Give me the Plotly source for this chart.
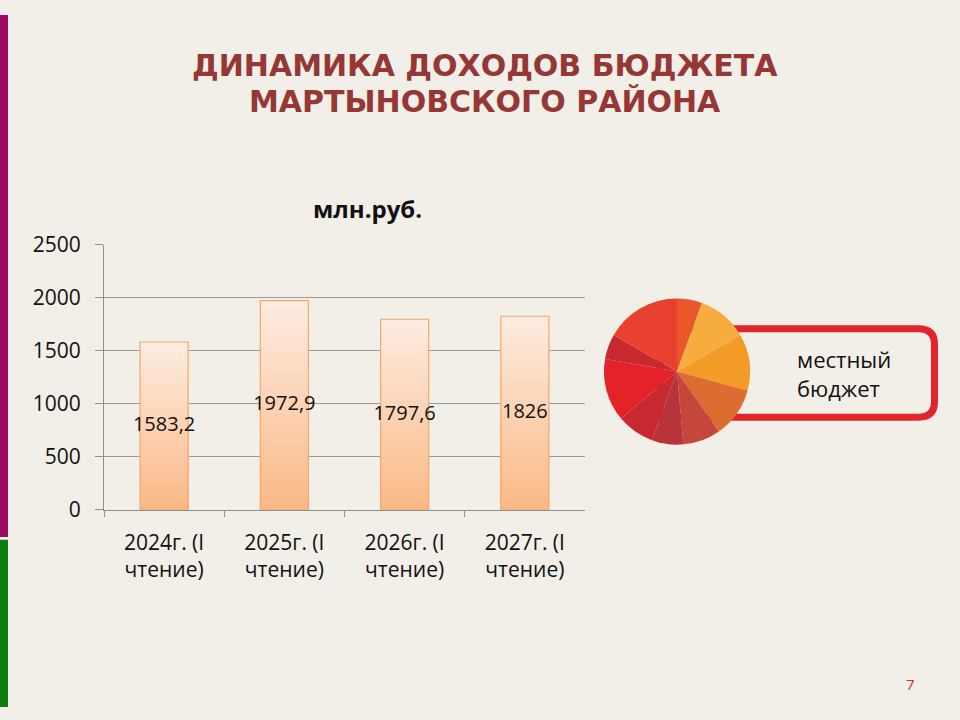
import plotly.graph_objects as go

years = ["2024г. (I<br>чтение)", "2025г. (I<br>чтение)", "2026г. (I<br>чтение)", "2027г. (I<br>чтение)"]
income = [1583.2, 1972.9, 1797.6, 1826]
income_labels = ["1583,2", "1972,9", "1797,6", "1826"]

# decorative emblem on the right (angles in degrees, clockwise from 12 o'clock)
emblem_parts = [20, 40, 45, 40, 30, 25, 30, 50, 20, 60]
emblem_colors = ["#e9572b", "#f7ac3e", "#f39b27", "#dd6c30", "#c5463a",
                 "#b8343a", "#c8282f", "#e32329", "#c9282f", "#e8412f"]

W, H = 960, 720


def px(x):
    return x / W


def py(y):
    return 1 - y / H


def mix(c1, c2, t):
    a = [int(c1[i:i + 2], 16) for i in (1, 3, 5)]
    b = [int(c2[i:i + 2], 16) for i in (1, 3, 5)]
    return "#%02x%02x%02x" % tuple(round(a[i] + (b[i] - a[i]) * t) for i in range(3))


fig = go.Figure()

# gradient bars: stack of overlaid bars, light at the top, orange at the bottom
steps = 40
for k in range(steps):
    f = 1 - k / steps
    fig.add_trace(go.Bar(x=years, y=[v * f for v in income],
                         marker=dict(color=mix("#fdece0", "#fbb987", k / (steps - 1)), line=dict(width=0)),
                         hoverinfo="skip", showlegend=False))
fig.add_trace(go.Bar(x=years, y=income,
                     marker=dict(color="rgba(0,0,0,0)", line=dict(color="#f5a868", width=1.2)),
                     hoverinfo="skip", showlegend=False))

fig.add_trace(go.Scatter(x=years, y=[v / 2 for v in income], mode="text", text=income_labels,
                         textfont=dict(family="Open Sans", size=20, color="#111111"),
                         hoverinfo="skip", showlegend=False))

fig.add_trace(go.Pie(values=emblem_parts, marker=dict(colors=emblem_colors, line=dict(width=0)),
                     sort=False, direction="clockwise", textinfo="none", hoverinfo="skip",
                     showlegend=False, domain=dict(x=[px(601), px(753)], y=[py(447), py(295)])))

# rounded frame behind the emblem
x0, x1, y0, y1, r = 660, 934.5, 326.5, 418.5, 16
path = ("M %f,%f L %f,%f Q %f,%f %f,%f L %f,%f Q %f,%f %f,%f L %f,%f Z" % (
    px(x0), py(y0), px(x1 - r), py(y0), px(x1), py(y0), px(x1), py(y0 + r),
    px(x1), py(y1 - r), px(x1), py(y1), px(x1 - r), py(y1), px(x0), py(y1)))

shapes = [
    dict(type="path", xref="paper", yref="paper", path=path, layer="below",
         line=dict(color="#e1252b", width=7), fillcolor="rgba(0,0,0,0)"),
    dict(type="rect", xref="paper", yref="paper", x0=0, x1=px(8), y0=py(543), y1=1,
         fillcolor="#9c0b62", line=dict(width=0), layer="below"),
    dict(type="rect", xref="paper", yref="paper", x0=0, x1=px(8), y0=0, y1=py(546),
         fillcolor="#0f7e10", line=dict(width=0), layer="below"),
]

title_font = dict(family="DejaVu Sans", size=30, color="#953734", weight="bold")
annotations = [
    dict(text="ДИНАМИКА ДОХОДОВ БЮДЖЕТА", x=px(485), y=py(53), xref="paper", yref="paper",
         showarrow=False, xanchor="center", yanchor="middle", font=title_font),
    dict(text="МАРТЫНОВСКОГО РАЙОНА", x=px(485), y=py(90), xref="paper", yref="paper",
         showarrow=False, xanchor="center", yanchor="middle", font=title_font),
    dict(text="млн.руб.", x=px(311), y=py(201), xref="paper", yref="paper", showarrow=False,
         yanchor="middle", font=dict(family="Open Sans", size=24, color="#111111", weight="bold")),
    dict(text="местный<br>бюджет", x=px(795), y=py(373), xref="paper", yref="paper",
         showarrow=False, xanchor="left", yanchor="middle", align="left",
         font=dict(family="Open Sans", size=22, color="#111111")),
    dict(text="7", x=px(917), y=py(696), xref="paper", yref="paper", showarrow=False,
         yanchor="middle", font=dict(family="Open Sans", size=15, color="#e1252b")),
]

tick_font = dict(family="Open Sans", size=21, color="#111111")
fig.update_layout(
    width=W, height=H, margin=dict(l=0, r=0, t=0, b=0),
    paper_bgcolor="#f2eee8", plot_bgcolor="rgba(0,0,0,0)",
    barmode="overlay", bargap=0.6,
    shapes=shapes, annotations=annotations,
    xaxis=dict(domain=[px(104), px(585)], showline=True, linecolor="#8f8f8f", linewidth=1,
               ticks="outside", tickson="boundaries", ticklen=6, tickcolor="#8f8f8f",
               ticklabelstandoff=14,
               showgrid=False, fixedrange=True, tickfont=tick_font),
    yaxis=dict(domain=[py(515), py(239)], range=[0, 2500], tickvals=[0, 500, 1000, 1500, 2000, 2500],
               showline=True, linecolor="#8f8f8f", linewidth=1, gridcolor="#9a9a9a",
               ticks="outside", ticklen=8, tickcolor="#8f8f8f", zeroline=False, fixedrange=True,
               ticklabelstandoff=10, tickfont=tick_font),
)

# drop the browser's default page margin so the figure sits at the window corner
fig.write_html("out.html", config={"displayModeBar": False},
               post_script="document.body.style.margin='0';")
